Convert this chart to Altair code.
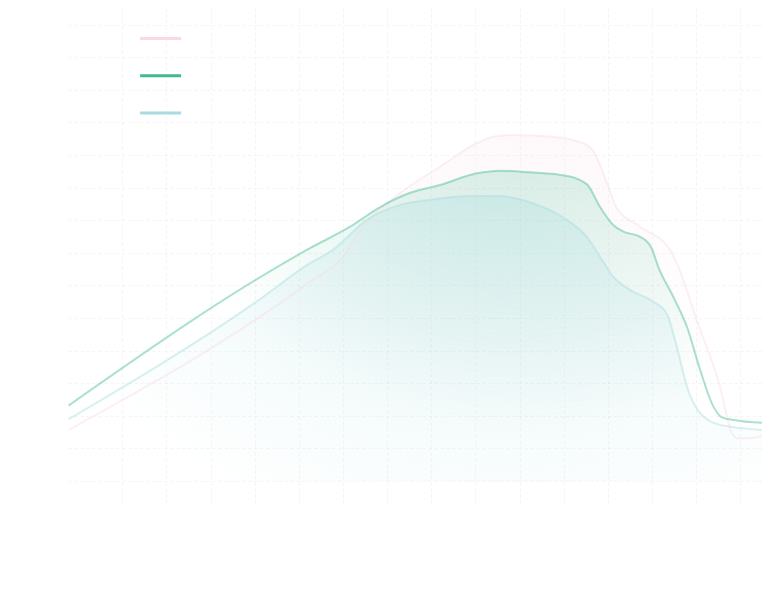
import altair as alt
import pandas as pd

series_names = ["系列一", "系列二", "系列三"]
series_colors = ["#f7d9e8", "#3fba8e", "#a6dde1"]
line_opacity = [0.42, 0.45, 0.7]

pink_x = [-12.2, 42.5, 50.0, 53.9, 62.9, 72.0, 80.3, 84.8, 88.5, 97.6, 104.4, 106.6, 109.7, 112.0, 117.3, 124.1, 125.6, 130.1, 135.4, 138.1, 139.2, 141.5, 146.7]
pink_y = [15.6, 61.1, 68.8, 77.0, 88.3, 96.4, 103.6, 105.8, 106.1, 105.6, 103.6, 101.5, 91.7, 83.7, 78.0, 70.9, 66.8, 49.4, 28.9, 14.6, 13.1, 13.1, 14.4]

green_x = [-12.2, 42.5, 51.6, 58.4, 65.2, 72.0, 80.3, 85.6, 93.0, 99.2, 103.7, 105.4, 108.2, 111.2, 113.5, 117.3, 119.9, 121.4, 124.8, 127.9, 130.9, 133.9, 135.8, 138.4, 146.7]
green_y = [23.1, 71.4, 78.0, 84.0, 88.4, 90.8, 94.4, 95.2, 94.6, 93.9, 92.3, 90.8, 84.1, 78.5, 76.5, 74.9, 71.4, 65.7, 56.5, 47.3, 34.0, 22.8, 19.5, 18.7, 17.7]

teal_x = [-12.2, 30.4, 42.5, 47.7, 55.4, 62.9, 70.4, 78.0, 85.6, 93.0, 100.7, 105.2, 108.2, 111.2, 115.0, 120.3, 123.3, 125.6, 127.9, 130.9, 135.4, 146.7]
teal_y = [18.9, 55.0, 66.8, 70.9, 80.1, 84.7, 86.4, 87.4, 87.4, 85.2, 80.1, 74.9, 68.8, 62.7, 58.6, 55.0, 51.4, 41.2, 28.9, 20.8, 17.2, 15.5]

x_grid = list(range(0, 141, 10))
y_grid = list(range(0, 141, 10))

rows = []
for name, xs_, ys_ in zip(series_names, [pink_x, green_x, teal_x], [pink_y, green_y, teal_y]):
    for a, b in zip(xs_, ys_):
        rows.append({"series": name, "series_o": name, "x": a, "y": b})
df = pd.DataFrame(rows)

xscale = alt.Scale(domain=[-12.3, 144.9], nice=False, zero=False)
yscale = alt.Scale(domain=[-8.0, 145.1], nice=False, zero=False)

grid_kw = dict(labels=False, ticks=False, domain=False, title=None, grid=True,
               gridColor="#e9e9e9", gridDash=[3, 3], gridOpacity=0.5, gridWidth=1)
x_enc = alt.X("x:Q", scale=xscale, axis=alt.Axis(values=x_grid, **grid_kw))
y_enc = alt.Y("y:Q", scale=yscale, axis=alt.Axis(values=y_grid, **grid_kw))

base = alt.Chart(df)


def area(name, rgb, alpha, cx, r):
    return base.transform_filter(alt.datum.series == name).mark_area(
        interpolate="monotone",
        clip=True,
        color=alt.Gradient(
            gradient="radial",
            stops=[alt.GradientStop(color=f"rgba({rgb},{alpha})", offset=0),
                   alt.GradientStop(color=f"rgba({rgb},{alpha * 0.45})", offset=0.5),
                   alt.GradientStop(color=f"rgba({rgb},0)", offset=1)],
            x1=cx, y1=0.02, r1=0, x2=cx, y2=0.02, r2=r,
        ),
    ).encode(x=x_enc, y=y_enc, y2=alt.datum(0))


area_pink = area(series_names[0], "247,217,232", 0.3, 0.67, 0.65)
area_green = area(series_names[1], "63,186,142", 0.36, 0.65, 0.62)
area_teal = area(series_names[2], "166,221,225", 0.5, 0.62, 0.8)

lines = base.mark_line(interpolate="monotone", strokeWidth=2, clip=True).encode(
    x=x_enc,
    y=y_enc,
    color=alt.Color(
        "series:N",
        scale=alt.Scale(domain=series_names, range=series_colors),
        legend=alt.Legend(
            orient="none", legendX=70.6, legendY=8.6, direction="vertical",
            title=None, symbolType="stroke", symbolSize=1681, symbolStrokeWidth=3,
            symbolOpacity=1, labelColor="#ffffff", padding=0, rowPadding=9.2,
        ),
    ),
    strokeOpacity=alt.StrokeOpacity("series_o:N", scale=alt.Scale(domain=series_names, range=line_opacity), legend=None),
)

chart = alt.layer(area_pink, area_green, area_teal, lines).properties(
    width=694, height=499,
    padding={"left": 60, "top": 0, "right": 0, "bottom": 5},
    autosize=alt.AutoSizeParams(type="none"),
    background="#ffffff",
).configure_view(stroke=None)

chart.save("out.html", embed_options={"renderer": "svg", "actions": False})
